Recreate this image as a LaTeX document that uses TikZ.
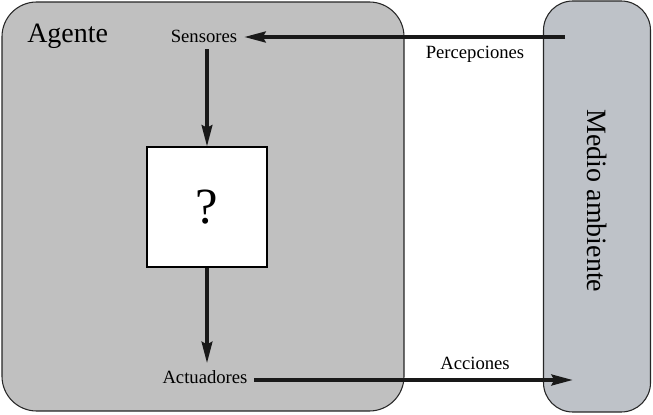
\documentclass[tikz,border=0pt]{standalone}
\usepackage{fontspec}
\setmainfont{Liberation Serif}
\usetikzlibrary{arrows.meta}
\definecolor{agentgray}{RGB}{192,192,192}
\definecolor{envgray}{RGB}{190,194,200}
\tikzset{
  agentbox/.style={draw=black!85,line width=0.8pt,fill=agentgray,rounded corners=26pt},
  envbox/.style={draw=black!85,line width=0.8pt,fill=envgray,rounded corners=22pt},
  lbl/.style={font=\fontsize{14}{16}\selectfont,inner sep=0pt},
  big/.style={font=\fontsize{21}{24}\selectfont,inner sep=0pt},
  qbox/.style={draw=black,line width=0.8pt,fill=white,minimum size=90pt,inner sep=0pt,font=\fontsize{38}{40}\selectfont},
  arr/.style={-{Stealth[length=16pt,width=8pt,inset=2pt]},line width=2.6pt,black!90},
  harr/.style={-{Stealth[length=16pt,width=8pt,inset=2pt]},line width=3pt,black!90}
}
\begin{document}
\begin{tikzpicture}[x=0.75pt,y=-0.75pt]
\useasboundingbox (0,0) rectangle (653,414);
\node[agentbox,minimum width=301.5pt,minimum height=306.75pt,inner sep=0pt] (agent) at (203,206.5) {};
\node[envbox,minimum width=80.25pt,minimum height=308.25pt,inner sep=0pt] (env) at (597,206.5) {};
\node[big,anchor=base west] (agtxt) at (27,42) {Agente};
\node[big,rotate=-90] (envtxt) at (597,201) {Medio ambiente};
\node[lbl,anchor=base,inner sep=5pt] (sens) at (204,42) {Sensores};
\node[lbl,anchor=base,inner sep=5pt] (act) at (205,383) {Actuadores};
\node[qbox] (q) at (207,207) {?};
\node[lbl,anchor=base] (perc) at (475,58) {Percepciones};
\node[lbl,anchor=base] (acc) at (475,369) {Acciones};
\coordinate (pstart) at (565,37);
\coordinate (aend) at (573,380);
\draw[harr] (pstart) -- (sens.east |- pstart);
\draw[arr] (sens.south -| q.north) -- (q.north);
\draw[arr] (q.south) -- (act.north -| q.south);
\draw[harr] (act.east |- aend) -- (aend);
\end{tikzpicture}
\end{document}
